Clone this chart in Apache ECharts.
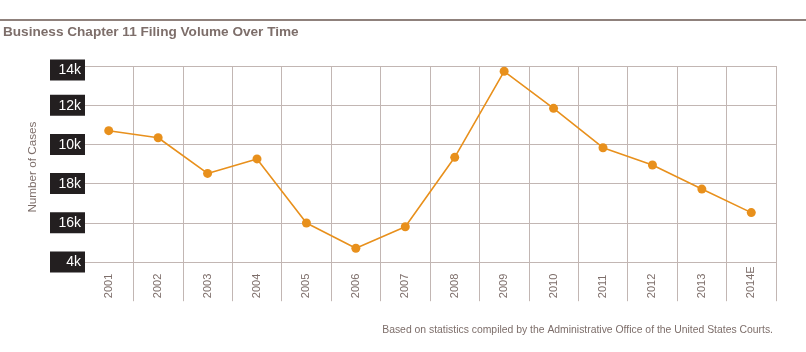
<!DOCTYPE html>
<html><head><meta charset="utf-8">
<script src="https://cdn.jsdelivr.net/npm/echarts@6/dist/echarts.min.js"></script>
<style>html,body{margin:0;padding:0;background:#fff}#c{width:806px;height:352px}</style>
</head><body><div id="c"></div>
<script>
var categories = ["2001","2002","2003","2004","2005","2006","2007","2008","2009","2010","2011","2012","2013","2014E"];
var cases = [10700,10340,8520,9260,5990,4700,5800,9340,13730,11840,9830,8950,7720,6520];
var tickValues = [4000,6000,8000,10000,12000,14000];
var tickLabels = ["4k","16k","18k","10k","12k","14k"];
var title = "Business Chapter 11 Filing Volume Over Time";
var yName = "Number of Cases";
var footnote = "Based on statistics compiled by the Administrative Office of the United States Courts.";

var FONT = "Liberation Sans";
var GRID = "#c2b6b3";
var TXT = "#7d6e6a";
var chart = echarts.init(document.getElementById('c'), null, {renderer:'canvas'});
chart.setOption({
  animation:false,
  backgroundColor:'#fff',
  title:{text:title,left:3,top:25,padding:0,textStyle:{fontFamily:FONT,fontSize:13.6,fontWeight:'bold',color:TXT}},
  graphic:[
    {type:'rect',shape:{x:0,y:19,width:806,height:2},style:{fill:'#8f817c'}},
    {type:'text',right:33,top:325,style:{text:footnote,fontFamily:FONT,fontSize:10.4,fill:TXT}}
  ],
  grid:{left:84,right:30,top:66,bottom:50.8,containLabel:false,outerBoundsMode:'none'},
  xAxis:{type:'category',data:categories,boundaryGap:true,
    axisLine:{show:false},axisTick:{show:false},
    splitLine:{show:true,showMinLine:false,lineStyle:{color:GRID,width:1},interval:0},
    axisLabel:{rotate:90,align:'left',margin:-3,interval:0,fontFamily:FONT,fontSize:11,color:TXT}
  },
  yAxis:{type:'value',min:2000,max:14000,interval:2000,
    name:yName,nameLocation:'middle',nameGap:34,nameRotate:90,
    nameTextStyle:{fontFamily:FONT,fontSize:11.7,color:TXT,padding:[0,0,0,33]},
    axisLine:{show:false},axisTick:{show:false},
    splitLine:{show:true,showMinLine:false,lineStyle:{color:GRID,width:1}},
    axisLabel:{margin:-1,align:'right',
      rich:{
        b:{fontFamily:FONT,fontSize:14,color:'#fff',backgroundColor:'#231f20',width:27,align:'right',padding:[4,4,3,4],lineHeight:13},
        s:{height:8,lineHeight:8,fontSize:1}
      },
      formatter:function(v){var i=tickValues.indexOf(v);if(i<0)return '';
        var t='{b|'+tickLabels[i]+'}';return i===tickValues.length-1?'{s|}\n'+t:t;}}
  },
  series:[{type:'line',data:cases,symbol:'circle',symbolSize:9,
    itemStyle:{color:'#e8901c'},lineStyle:{color:'#e8901c',width:1.6}}]
});
</script></body></html>
